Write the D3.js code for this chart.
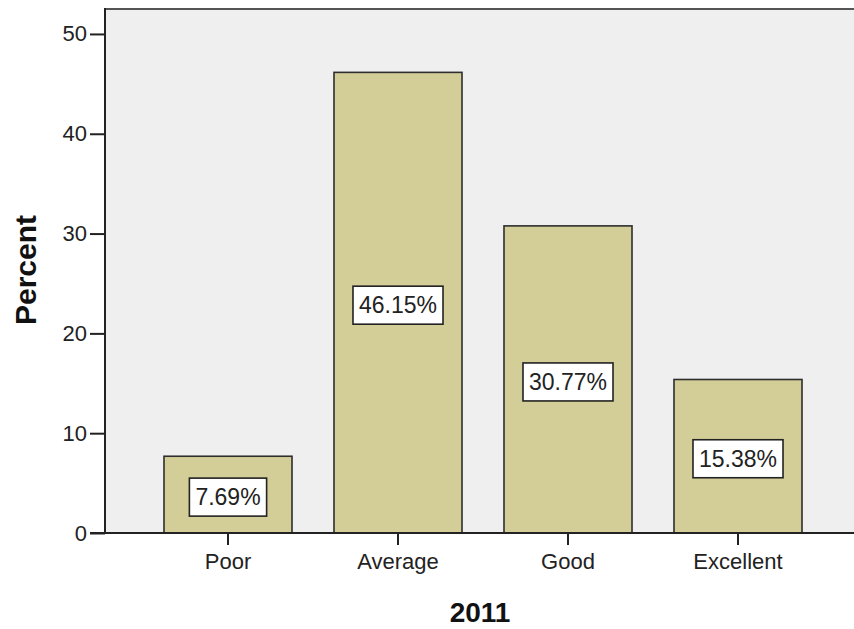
<!DOCTYPE html>
<html><head><meta charset="utf-8">
<script src="https://cdn.jsdelivr.net/npm/d3@7"></script>
<style>body{margin:0;background:#fff;} svg{display:block;font-family:"Liberation Sans",Arial,sans-serif;}</style>
</head><body>
<svg id="c" width="854" height="629"></svg>
<script>
const categories = ["Poor", "Average", "Good", "Excellent"];
const percents = [7.69, 46.15, 30.77, 15.38];
const labels = ["7.69%", "46.15%", "30.77%", "15.38%"];
const yTicks = [0, 10, 20, 30, 40, 50];
const xTitle = "2011";
const yTitle = "Percent";

const svg = d3.select("#c");
const L = 105, R = 856, T = 8, B = 533;

const x = d3.scaleBand().domain(categories).range([143, 823]).paddingInner(0.247).paddingOuter(0.1235);
const y = d3.scaleLinear().domain([0, 52.6]).range([B, T]);

// plot background
svg.append("rect").attr("x", L).attr("y", T).attr("width", R - L).attr("height", B - T).attr("fill", "#efefef");
svg.append("line").attr("x1", L).attr("x2", R).attr("y1", T + 1).attr("y2", T + 1).attr("stroke", "#555").attr("stroke-width", 2);

// bars
svg.selectAll("rect.bar").data(categories).join("rect").attr("class", "bar")
  .attr("x", d => x(d)).attr("width", x.bandwidth())
  .attr("y", (d, i) => y(percents[i])).attr("height", (d, i) => B - y(percents[i]))
  .attr("fill", "#d3cd98").attr("stroke", "#2e2e2e").attr("stroke-width", 1.6);

// y axis
const yAxis = d3.axisLeft(y).tickValues(yTicks).tickSize(15).tickPadding(3).tickFormat(d3.format("d"));
const gy = svg.append("g").attr("transform", `translate(${L},0)`).call(yAxis);
gy.select(".domain").remove();
gy.append("line").attr("x1", 0).attr("x2", 0).attr("y1", T).attr("y2", B).attr("stroke", "#222").attr("stroke-width", 2);
gy.selectAll(".tick line").attr("stroke", "#222").attr("stroke-width", 2);
gy.selectAll(".tick text").attr("fill", "#222").style("font-size", "22px").style("font-family", "Liberation Sans, Arial, sans-serif");

// x axis
const xAxis = d3.axisBottom(x).tickSize(12).tickPadding(8);
const gx = svg.append("g").attr("transform", `translate(0,${B})`).call(xAxis);
gx.select(".domain").remove();
gx.append("line").attr("x1", 90).attr("x2", R).attr("y1", 0).attr("y2", 0).attr("stroke", "#222").attr("stroke-width", 2);
gx.selectAll(".tick line").attr("stroke", "#222").attr("stroke-width", 2);
gx.selectAll(".tick text").attr("fill", "#222").style("font-size", "22px").style("font-family", "Liberation Sans, Arial, sans-serif");

// value labels
categories.forEach((c, i) => {
  const cx = x(c) + x.bandwidth() / 2;
  const cy = y(percents[i] / 2) + 2.5;
  const g = svg.append("g");
  const box = g.append("rect").attr("fill", "#fff").attr("stroke", "#222").attr("stroke-width", 1.6);
  const t = g.append("text").attr("x", cx).attr("y", cy).attr("text-anchor", "middle").attr("dominant-baseline", "central")
    .style("font-size", "23px").attr("fill", "#222").text(labels[i]);
  const w = t.node().getComputedTextLength();
  box.attr("x", cx - w / 2 - 6).attr("width", w + 12).attr("y", cy - 19).attr("height", 38);
});

// titles
svg.append("text").attr("x", 480).attr("y", 622).attr("text-anchor", "middle")
  .style("font-size", "28px").style("font-weight", "bold").attr("fill", "#111").text(xTitle);
svg.append("text").attr("transform", "translate(36,270) rotate(-90)").attr("text-anchor", "middle")
  .style("font-size", "30px").style("font-weight", "bold").attr("fill", "#111").text(yTitle);
</script>
</body></html>
